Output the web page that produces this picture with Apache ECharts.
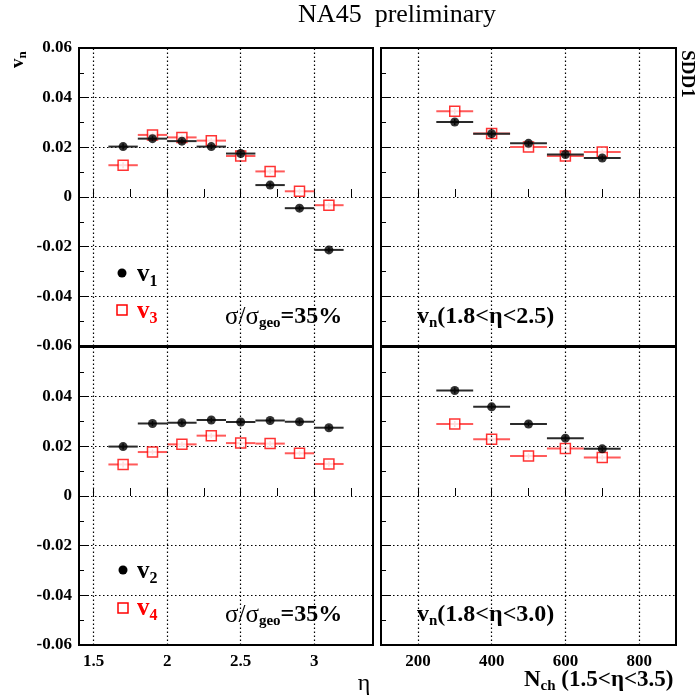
<!DOCTYPE html>
<html><head><meta charset="utf-8">
<script src="https://cdn.jsdelivr.net/npm/echarts@6/dist/echarts.min.js"></script>
<style>html,body{margin:0;padding:0;background:#fff}#c{width:695px;height:700px}</style>
</head><body><div id="c"></div>
<script>
// ---------- data ----------
const etaCenters = [1.7, 1.9, 2.1, 2.3, 2.5, 2.7, 2.9, 3.1];
const etaHalfBin = [0.1, 0.1, 0.1, 0.1, 0.1, 0.1, 0.1, 0.1];
const nchCenters = [300, 400, 500, 600, 700];
const nchHalfBin = [50, 50, 50, 50, 50];

const v1Eta = [0.0203, 0.0235, 0.0225, 0.0203, 0.0175, 0.0048, -0.0045, -0.0213];
const v3Eta = [0.0128, 0.0250, 0.0240, 0.0227, 0.0165, 0.0103, 0.0023, -0.0033];
const v2Eta = [0.0199, 0.0292, 0.0295, 0.0306, 0.0298, 0.0304, 0.0299, 0.0275];
const v4Eta = [0.0127, 0.0177, 0.0208, 0.0243, 0.0213, 0.0211, 0.0172, 0.0129];
const v1Nch = [0.0302, 0.0255, 0.0216, 0.0171, 0.0157];
const v3Nch = [0.0345, 0.0256, 0.0201, 0.0165, 0.0181];
const v2Nch = [0.0425, 0.0359, 0.0290, 0.0233, 0.0190];
const v4Nch = [0.0290, 0.0229, 0.0161, 0.0191, 0.0155];

const yErrEta = [0.0012, 0.0010, 0.0010, 0.0010, 0.0010, 0.0010, 0.0010, 0.0010];
const yErrNch = [0.0012, 0.0010, 0.0010, 0.0010, 0.0010];

const etaTicks = [1.5, 1.75, 2, 2.25, 2.5, 2.75, 3, 3.25];
const etaLabels = [1.5, 2, 2.5, 3];
const etaGrid = [1.5, 2, 2.5, 3];
const nchTicks = [200, 300, 400, 500, 600, 700, 800];
const nchLabels = [200, 400, 600, 800];
const nchGrid = [200, 400, 600, 800];

// ---------- helpers ----------
const SERIF = "'Liberation Serif', 'DejaVu Serif', serif";
const BLACK_BAR = '#2a2a2a';
const RED = '#ff0000';
const RED_BAR = '#ff5a5a';

function rows(xs, ys, ex, ey) { return xs.map((x, i) => [x, ys[i], ex[i], ey[i]]); }

function errRender(color) {
  return function (params, api) {
    const x = api.value(0), y = api.value(1), ex = api.value(2), ey = api.value(3);
    const a = api.coord([x - ex, y]), b = api.coord([x + ex, y]);
    const c = api.coord([x, y - ey]), d = api.coord([x, y + ey]);
    return { type: 'group', children: [
      { type: 'line', shape: { x1: a[0], y1: a[1], x2: b[0], y2: b[1] }, style: { stroke: color, lineWidth: 2 } },
      { type: 'line', shape: { x1: c[0], y1: c[1], x2: d[0], y2: d[1] }, style: { stroke: color, lineWidth: 1.5 } }
    ]};
  };
}

const dotted = { type: [1.5, 2.5], color: '#000', width: 1.2 };

function gridLineSeries(idx, xs) {
  return {
    type: 'scatter', xAxisIndex: idx, yAxisIndex: idx, data: [], silent: true,
    markLine: { silent: true, symbol: ['none', 'none'], animation: false,
      label: { show: false }, lineStyle: dotted,
      data: xs.map(v => ({ xAxis: v })) }
  };
}

function panelSeries(idx, xs, exs, blackY, redY, ey) {
  return [
    gridLineSeries(idx, idx % 2 === 0 ? etaGrid : nchGrid),
    { type: 'custom', xAxisIndex: idx, yAxisIndex: idx, renderItem: errRender(RED_BAR),
      encode: { x: 0, y: 1 }, data: rows(xs, redY, exs, ey), silent: true, z: 3 },
    { type: 'scatter', xAxisIndex: idx, yAxisIndex: idx, symbol: 'rect', symbolSize: 10,
      itemStyle: { color: '#fff', borderColor: RED, borderWidth: 1.5 },
      data: xs.map((x, i) => [x, redY[i]]), silent: true, z: 4 },
    { type: 'custom', xAxisIndex: idx, yAxisIndex: idx, renderItem: errRender(BLACK_BAR),
      encode: { x: 0, y: 1 }, data: rows(xs, blackY, exs, ey), silent: true, z: 5 },
    { type: 'scatter', xAxisIndex: idx, yAxisIndex: idx, symbol: 'circle', symbolSize: 9,
      itemStyle: { color: '#000' }, data: xs.map((x, i) => [x, blackY[i]]), silent: true, z: 6 }
  ];
}

const grids = [
  { left: 79, top: 48, width: 294, height: 298 },
  { left: 381, top: 48, width: 295, height: 298 },
  { left: 79, top: 347, width: 294, height: 298 },
  { left: 381, top: 347, width: 295, height: 298 }
].map(g => Object.assign(g, { show: true, borderColor: '#000', borderWidth: 2, backgroundColor: 'transparent', containLabel: false }));

function xAxis(idx) {
  const isEta = idx % 2 === 0;
  const bottom = idx >= 2;
  return {
    type: 'value', gridIndex: idx,
    min: isEta ? 1.4 : 100, max: isEta ? 3.4 : 900,
    axisLine: { show: false },
    axisTick: { show: true, inside: true, length: 8, lineStyle: { color: '#000', width: 1 },
      customValues: isEta ? etaTicks : nchTicks },
    axisLabel: { show: bottom, customValues: isEta ? etaLabels : nchLabels, margin: 8,
      color: '#000', fontFamily: SERIF, fontWeight: 'bold', fontSize: 17 },
    splitLine: { show: false }
  };
}

function yAxis(idx) {
  const labeled = idx % 2 === 0;
  return {
    type: 'value', gridIndex: idx, min: -0.06, max: 0.06, interval: 0.02,
    axisLine: { show: false },
    axisTick: { show: true, inside: true, length: 10, lineStyle: { color: '#000', width: 1 } },
    minorTick: { show: true, splitNumber: 2, length: 5, lineStyle: { color: '#000', width: 1 } },
    axisLabel: { show: labeled, margin: 7, color: '#000', fontFamily: SERIF, fontWeight: 'bold', fontSize: 17,
      showMaxLabel: idx === 0, showMinLabel: true,
      formatter: v => String(Math.round(v * 100) / 100) },
    splitLine: { show: true, lineStyle: dotted }
  };
}

function rich(color, big, sub, pad) {
  return {
    b: { fontFamily: SERIF, fontWeight: 'bold', fontSize: big, fill: color },
    g: { fontFamily: SERIF, fontSize: big + 1, fill: color },
    s: { fontFamily: SERIF, fontWeight: 'bold', fontSize: sub, fill: color, padding: [pad, 0, 0, 0] }
  };
}
const annRich = rich('#000', 24, 15, 13);
const axRich = rich('#000', 23, 15, 12);
const blkRich = rich('#000', 25, 16, 13);
const redRich = rich(RED, 25, 16, 13);

function txt(x, y, text, r, extra) {
  return Object.assign({ type: 'text', x: x, y: y, silent: true,
    style: { text: text, rich: r, verticalAlign: 'middle', align: 'left' } }, extra || {});
}

const graphics = [
  { type: 'text', x: 397, y: 15, silent: true, style: { text: 'NA45  preliminary', font: "26px 'Liberation Serif', serif", fill: '#000', align: 'center', verticalAlign: 'middle' } },
  // y axis title
  txt(18, 68, '{b|v}{s|n}', rich('#000', 19, 13, 10), { rotation: Math.PI / 2 }),
  // SDD1
  { type: 'text', x: 687, y: 74, rotation: -Math.PI / 2, silent: true, style: { text: 'SDD1', font: "bold 19px 'Liberation Serif', serif", fill: '#000', align: 'center', verticalAlign: 'middle' } },
  // legends
  { type: 'circle', shape: { cx: 122, cy: 273, r: 4.5 }, style: { fill: '#000' }, silent: true },
  txt(137, 275, '{b|v}{s|1}', blkRich),
  { type: 'rect', shape: { x: 117, y: 305, width: 10, height: 10 }, style: { fill: '#fff', stroke: RED, lineWidth: 1.5 }, silent: true },
  txt(137, 312, '{b|v}{s|3}', redRich),
  { type: 'circle', shape: { cx: 123, cy: 570, r: 4.5 }, style: { fill: '#000' }, silent: true },
  txt(137, 572, '{b|v}{s|2}', blkRich),
  { type: 'rect', shape: { x: 118, y: 603, width: 10, height: 10 }, style: { fill: '#fff', stroke: RED, lineWidth: 1.5 }, silent: true },
  txt(137, 609, '{b|v}{s|4}', redRich),
  // panel annotations
  txt(225, 317, '{g|σ/σ}{s|geo}{b|=35%}', annRich),
  txt(225, 615, '{g|σ/σ}{s|geo}{b|=35%}', annRich),
  txt(417, 317, '{b|v}{s|n}{b|(1.8<η<2.5)}', annRich),
  txt(417, 615, '{b|v}{s|n}{b|(1.8<η<3.0)}', annRich),
  // x axis titles
  { type: 'text', x: 364, y: 684, silent: true, style: { text: 'η', font: "24px 'Liberation Serif', serif", fill: '#000', align: 'center', verticalAlign: 'middle' } },
  txt(524, 680, '{b|N}{s|ch}{b| (1.5<η<3.5)}', axRich)
];

const option = {
  animation: false,
  backgroundColor: '#fff',
  grid: grids,
  xAxis: [0, 1, 2, 3].map(xAxis),
  yAxis: [0, 1, 2, 3].map(yAxis),
  graphic: graphics,
  series: [].concat(
    panelSeries(0, etaCenters, etaHalfBin, v1Eta, v3Eta, yErrEta),
    panelSeries(1, nchCenters, nchHalfBin, v1Nch, v3Nch, yErrNch),
    panelSeries(2, etaCenters, etaHalfBin, v2Eta, v4Eta, yErrEta),
    panelSeries(3, nchCenters, nchHalfBin, v2Nch, v4Nch, yErrNch)
  )
};

const chart = echarts.init(document.getElementById('c'), null, { renderer: 'canvas' });
chart.setOption(option);
</script>
</body></html>
